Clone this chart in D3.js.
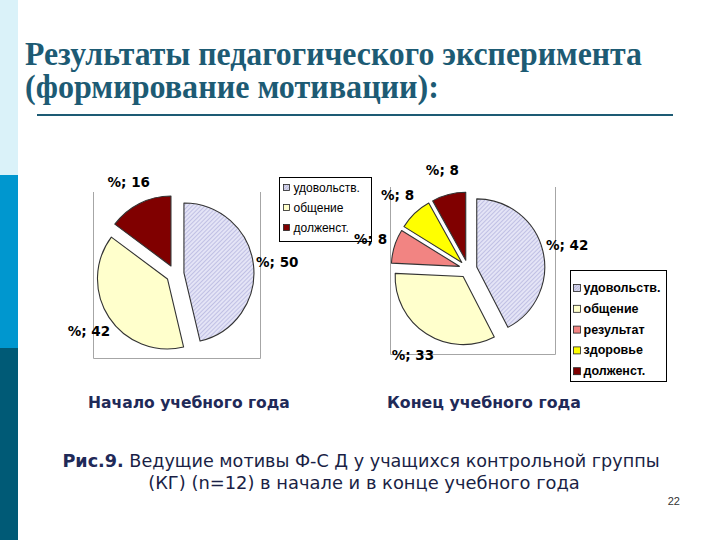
<!DOCTYPE html>
<html><head><meta charset="utf-8">
<script src="https://cdn.jsdelivr.net/npm/d3@7"></script>
<style>html,body{margin:0;padding:0;background:#fff;}svg{display:block;}</style>
</head><body>
<script>
// ---- data ----
const titleLines = ["Результаты педагогического эксперимента", "(формирование мотивации):"];
const startCategories = ["удовольств.", "общение", "долженст."];
const startValues = [50, 42, 16];
const endCategories = ["удовольств.", "общение", "результат", "здоровье", "долженст."];
const endValues = [42, 33, 8, 8, 8];
const subtitles = ["Начало учебного года", "Конец учебного года"];
const captionBold = "Рис.9.";
const captionLine1 = " Ведущие мотивы Ф-С Д у учащихся контрольной группы";
const captionLine2 = "(КГ) (n=12) в начале и в конце учебного года";
const pageNumber = "22";

const W = 720, H = 540;
const svg = d3.select("body").append("svg").attr("width", W).attr("height", H);

const colorMap = {
  "удовольств.": "url(#hatch)",
  "общение": "#ffffcc",
  "результат": "#f28482",
  "здоровье": "#ffff00",
  "долженст.": "#800000"
};
const swatchMap = {
  "удовольств.": "url(#hatchSmall)",
  "общение": "#ffffcc",
  "результат": "#f28482",
  "здоровье": "#ffff00",
  "долженст.": "#800000"
};

const defs = svg.append("defs");
const pat = defs.append("pattern").attr("id", "hatch").attr("patternUnits", "userSpaceOnUse")
  .attr("width", 3).attr("height", 3).attr("patternTransform", "rotate(45)");
pat.append("rect").attr("width", 3).attr("height", 3).attr("fill", "#e4e4f6");
pat.append("line").attr("x1", 0).attr("y1", 0).attr("x2", 0).attr("y2", 3).attr("stroke", "#a8a8d8").attr("stroke-width", 1.2);
const pat2 = defs.append("pattern").attr("id", "hatchSmall").attr("patternUnits", "userSpaceOnUse")
  .attr("width", 2).attr("height", 2).attr("patternTransform", "rotate(45)");
pat2.append("rect").attr("width", 2).attr("height", 2).attr("fill", "#dcdcf0");
pat2.append("line").attr("x1", 0).attr("y1", 0).attr("x2", 0).attr("y2", 2).attr("stroke", "#9a9ac8").attr("stroke-width", 1);

// ---- left decorative strip ----
const strip = [{y0: 0, y1: 175, c: "#daf2f9"}, {y0: 175, y1: 348, c: "#0097cf"}, {y0: 348, y1: 540, c: "#005a76"}];
svg.selectAll("rect.strip").data(strip).enter().append("rect").attr("class", "strip")
  .attr("x", 0).attr("width", 18).attr("y", d => d.y0).attr("height", d => d.y1 - d.y0).attr("fill", d => d.c);

// helper: fit text width by font size
function fitWidth(sel, target) {
  const node = sel.node();
  const w = node.getComputedTextLength();
  const fs = parseFloat(sel.attr("font-size"));
  sel.attr("font-size", (fs * target / w).toFixed(2));
}

// ---- title ----
const titleColor = "#1d5b74";
const serif = "'Liberation Serif', 'DejaVu Serif', 'Times New Roman', serif";
const t1 = svg.append("text").attr("x", 25).attr("y", 65).style("font-family", serif)
  .attr("font-weight", "bold").attr("font-size", 33).attr("fill", titleColor).text(titleLines[0]);
t1.attr("textLength", 617).attr("lengthAdjust", "spacingAndGlyphs");
const t2 = svg.append("text").attr("x", 25).attr("y", 98).style("font-family", serif)
  .attr("font-weight", "bold").attr("font-size", 33).attr("fill", titleColor).text(titleLines[1]);
t2.attr("textLength", 414).attr("lengthAdjust", "spacingAndGlyphs");
svg.append("line").attr("x1", 37).attr("x2", 673).attr("y1", 115).attr("y2", 115)
  .attr("stroke", "#1d5b74").attr("stroke-width", 2);

// ---- pie drawing ----
function drawPie(cfg) {
  const data = cfg.cats.map((c, i) => ({cat: c, v: cfg.vals[i]}));
  const g = svg.append("g");
  const b = cfg.box;
  g.append("path").attr("d", `M${b.x0},${b.y0}V${b.y1}H${b.x1}V${b.y0}`)
    .attr("fill", "none").attr("stroke", "#a6a6a6").attr("stroke-width", 1);
  const pie = d3.pie().sort(null).value(d => d.v);
  const arc = d3.arc().innerRadius(0).outerRadius(cfg.r);
  const arcs = pie(data);
  const off = a => { const m = (a.startAngle + a.endAngle) / 2; return [Math.sin(m), -Math.cos(m)]; };
  g.selectAll("path.slice").data(arcs).enter().append("path").attr("class", "slice")
    .attr("transform", d => { const u = off(d); return `translate(${cfg.cx + u[0] * cfg.explode},${cfg.cy + u[1] * cfg.explode})`; })
    .attr("d", arc).attr("fill", d => colorMap[d.data.cat])
    .attr("stroke", "#333").attr("stroke-width", 1.1).attr("stroke-linejoin", "round");
  g.selectAll("text.lab").data(arcs).enter().append("text").attr("class", "lab")
    .attr("x", d => cfg.cx + off(d)[0] * cfg.labelR)
    .attr("y", d => cfg.cy + off(d)[1] * cfg.labelR)
    .attr("text-anchor", "middle").attr("dominant-baseline", "central")
    .style("font-family", "'DejaVu Sans', Verdana, sans-serif").attr("font-weight", "bold")
    .attr("font-size", 13.5).attr("fill", "#000")
    .text(d => "%; " + d.data.v);
  const L = cfg.legend;
  const lg = svg.append("g");
  lg.append("rect").attr("x", L.x).attr("y", L.y).attr("width", L.w).attr("height", L.h)
    .attr("fill", "#fff").attr("stroke", "#000").attr("stroke-width", 1);
  const items = lg.selectAll("g.it").data(cfg.cats).enter().append("g").attr("class", "it")
    .attr("transform", (d, i) => `translate(${L.x},${L.y + L.first + i * L.step})`);
  items.append("rect").attr("x", L.sx).attr("y", -L.ss / 2).attr("width", L.ss).attr("height", L.ss)
    .attr("fill", d => swatchMap[d]).attr("stroke", "#222").attr("stroke-width", 0.8);
  items.append("text").attr("x", L.tx).attr("y", 0).attr("dominant-baseline", "central")
    .style("font-family", "'Liberation Sans', Arial, sans-serif").attr("font-size", L.fs)
    .attr("font-weight", L.fw).attr("fill", "#000").text(d => d);
}

drawPie({
  cats: startCategories, vals: startValues,
  cx: 175, cy: 274, r: 70, explode: 9, labelR: 103,
  box: {x0: 93.5, x1: 260.5, y0: 192, y1: 358.5},
  legend: {x: 279.5, y: 177.5, w: 92, h: 64, first: 10, step: 20, sx: 4, ss: 6, tx: 14, fs: 12, fw: "normal"}
});
drawPie({
  cats: endCategories, vals: endValues,
  cx: 468, cy: 269, r: 68, explode: 9, labelR: 102,
  box: {x0: 390.5, x1: 555.5, y0: 187, y1: 354.5},
  legend: {x: 570.5, y: 270.5, w: 96, h: 111, first: 17.5, step: 20.8, sx: 3, ss: 7, tx: 13, fs: 12.5, fw: "bold"}
});

// ---- subtitles ----
const navy = "#1f2a58";
const subX = [[88, 290], [387, 581]];
subtitles.forEach((s, i) => {
  const t = svg.append("text").attr("x", subX[i][0]).attr("y", 408).style("font-family", "'DejaVu Sans', Verdana, sans-serif")
    .attr("font-weight", "bold").attr("font-size", 14).attr("fill", navy).text(s);
  fitWidth(t, subX[i][1] - subX[i][0]);
});

// ---- caption ----
const c1 = svg.append("text").attr("x", 361).attr("y", 467).attr("text-anchor", "middle")
  .style("font-family", "'DejaVu Sans', Verdana, sans-serif").attr("font-size", 15).attr("fill", "#1a1f45");
c1.append("tspan").attr("font-weight", "bold").attr("fill", navy).text(captionBold);
c1.append("tspan").text(captionLine1);
fitWidth(c1, 598);
const c2 = svg.append("text").attr("x", 364).attr("y", 489).attr("text-anchor", "middle")
  .style("font-family", "'DejaVu Sans', Verdana, sans-serif").attr("font-size", 15).attr("fill", "#1a1f45").text(captionLine2);
fitWidth(c2, 432);

svg.append("text").attr("x", 680).attr("y", 505).attr("text-anchor", "end")
  .style("font-family", "'Liberation Sans Narrow', 'Liberation Sans', sans-serif").attr("font-size", 11)
  .attr("fill", "#333").text(pageNumber);
</script>
</body></html>
